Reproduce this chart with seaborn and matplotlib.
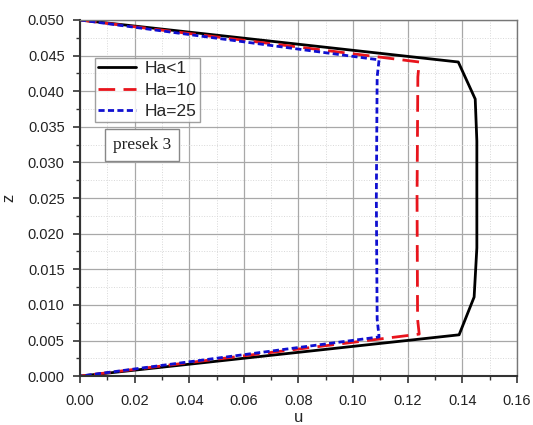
import matplotlib
matplotlib.use("Agg")
import matplotlib.pyplot as plt
import seaborn as sns
import pandas as pd
from matplotlib.ticker import MultipleLocator, FormatStrFormatter

# Data
black_u = [0.0, 0.1385, 0.1447, 0.1453, 0.1453, 0.1443, 0.1388, 0.0]
black_z = [0.050, 0.0441, 0.0389, 0.0330, 0.0180, 0.0111, 0.0058, 0.0]
red_u = [0.0, 0.1242, 0.1237, 0.1234, 0.1236, 0.1242, 0.0]
red_z = [0.050, 0.0441, 0.0420, 0.0250, 0.0080, 0.0059, 0.0]
blue_u = [0.0, 0.1095, 0.1088, 0.1085, 0.1088, 0.1095, 0.0]
blue_z = [0.050, 0.0444, 0.0420, 0.0250, 0.0080, 0.0055, 0.0]
labels = ["Ha<1", "Ha=10", "Ha=25"]
x_ticks = [0.00, 0.02, 0.04, 0.06, 0.08, 0.10, 0.12, 0.14, 0.16]
y_ticks = [0.000, 0.005, 0.010, 0.015, 0.020, 0.025, 0.030, 0.035, 0.040, 0.045, 0.050]

sns.set_theme(style="white")
plt.rcParams['font.family'] = ['Liberation Sans', 'DejaVu Sans']

fig = plt.figure(figsize=(5.33, 4.25), dpi=100)
ax = fig.add_axes([0.150, 0.115, 0.820, 0.838])

series = [
    (black_u, black_z, labels[0], "black", (None, None)),
    (red_u, red_z, labels[1], "#e8141c", (6, 3)),
    (blue_u, blue_z, labels[2], "#1010d0", (2.2, 1.2)),
]
for u, z, lab, col, dash in series:
    df = pd.DataFrame({"u": u, "z": z})
    sns.lineplot(data=df, x="u", y="z", sort=False, estimator=None,
                 color=col, lw=2.0, label=lab, ax=ax)
    l = ax.get_lines()[-1]
    if dash[0] is not None:
        l.set_dashes(dash)

ax.set_xlim(0, 0.16)
ax.set_ylim(0, 0.05)
ax.set_xticks(x_ticks)
ax.set_yticks(y_ticks)
ax.xaxis.set_major_formatter(FormatStrFormatter('%.2f'))
ax.yaxis.set_major_formatter(FormatStrFormatter('%.3f'))
ax.xaxis.set_minor_locator(MultipleLocator(0.01))
ax.yaxis.set_minor_locator(MultipleLocator(0.0025))

ax.grid(True, which='major', color='#a8a8a8', lw=0.9)
ax.grid(True, which='minor', color='#d8d8d8', lw=0.7, ls=':')
ax.set_axisbelow(True)

ax.tick_params(axis='both', which='major', direction='out', length=5, width=1.2,
               color='#333333', labelsize=10.5, labelcolor='#222222',
               bottom=True, left=True)
ax.tick_params(axis='x', which='major', pad=8)
ax.tick_params(axis='y', which='major', pad=6)
ax.tick_params(axis='both', which='minor', direction='out', length=3, width=1.0,
               color='#333333', bottom=True, left=True)

for side in ['left', 'bottom']:
    ax.spines[side].set_color('#333333')
    ax.spines[side].set_linewidth(1.5)
for side in ['top', 'right']:
    ax.spines[side].set_color('#777777')
    ax.spines[side].set_linewidth(1.0)

ax.set_xlabel("u", fontsize=12, labelpad=1)
ax.set_ylabel("z", fontsize=12, labelpad=8)

leg = ax.legend(loc='upper left', bbox_to_anchor=(0.034, 0.893), borderaxespad=0,
                fontsize=12.5, frameon=True, fancybox=False, edgecolor='#888888',
                handlelength=2.2, handletextpad=0.5, labelspacing=0.36,
                borderpad=0.18)
leg.get_frame().set_linewidth(1.0)

ax.text(0.142, 0.649, "presek 3", transform=ax.transAxes, ha='center', va='center',
        fontsize=12.5, family=['Liberation Serif', 'DejaVu Serif'], color='#222222',
        bbox=dict(boxstyle='square,pad=0.45', fc='white', ec='#888888', lw=1.0))

fig.savefig("out.png", dpi=100)
